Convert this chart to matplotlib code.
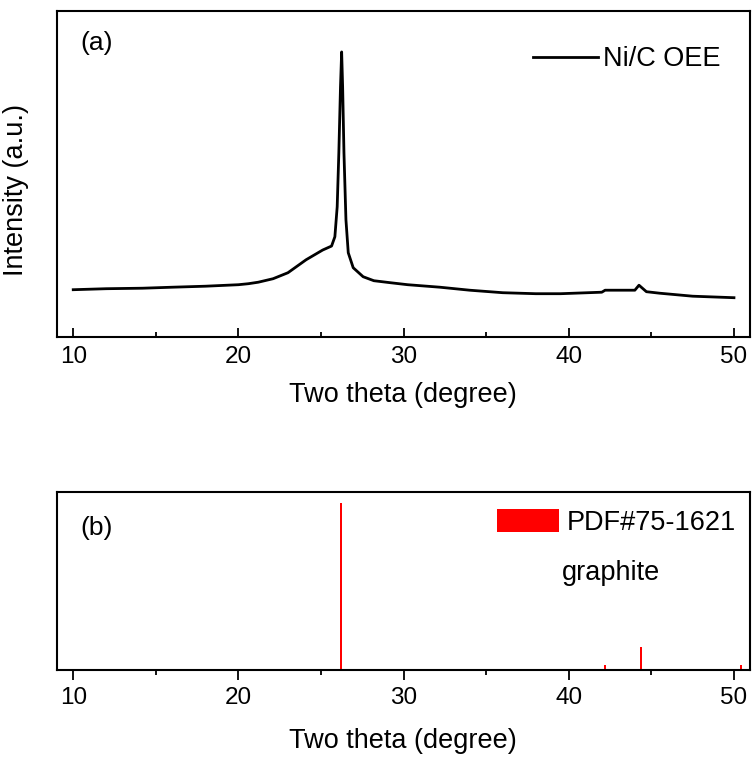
import matplotlib
matplotlib.use("Agg")
import matplotlib.pyplot as plt

plt.rcParams['font.family'] = ['Liberation Sans', 'DejaVu Sans']

two_theta = [10.0, 12.0, 14.2, 16.0, 18.0, 20.0, 20.6, 21.2, 22.1, 23.0, 24.1, 25.1, 25.64,
             25.84, 25.98, 26.08, 26.18, 26.25, 26.31, 26.39, 26.51, 26.65, 26.95,
             27.55, 28.2, 29.2, 30.25, 32.2, 34.0, 36.0, 38.0, 39.5, 42.0, 42.2,
             44.0, 44.25, 44.7, 45.5, 47.5, 50.0]
intensity = [47, 48, 48.5, 49.5, 50.5, 52, 53, 54.5, 58, 64, 77, 86.7, 90.7,
             100, 130, 184, 250, 285, 250, 184, 117, 84, 69,
             60, 56, 54, 52, 49.5, 46.5, 44, 43, 43, 44.5, 46.5,
             46.5, 51.5, 45, 43.5, 40.5, 39]

# (b) reference pattern PDF#75-1621 graphite
ref_pos = [26.2, 42.2, 44.35, 50.4]
ref_int = [100, 3, 14, 3]

fig = plt.figure(figsize=(7.53, 7.61), dpi=100)
ax1 = fig.add_axes([0.0753, 0.5576, 0.9207, 0.428])
ax2 = fig.add_axes([0.0753, 0.1196, 0.9207, 0.2343])

ax1.plot(two_theta, intensity, '-', color='black', lw=2.0, label='Ni/C OEE')
ax1.set_xlim(9.0, 50.97)
ax1.set_ylim(0, 326)
ax1.set_yticks([])
ax1.set_xticks([10, 20, 30, 40, 50])
ax1.set_xticks([15, 25, 35, 45], minor=True)
ax1.tick_params(axis='x', which='major', direction='in', length=6.5, width=1.3, pad=7, labelsize=17.5)
ax1.tick_params(axis='x', which='minor', direction='in', length=3.5, width=1.3)
ax1.set_xlabel('Two theta (degree)', fontsize=19.5)
ax1.xaxis.set_label_coords(0.5, -0.139)
ax1.set_ylabel('Intensity (a.u.)', fontsize=19.5)
ax1.yaxis.set_label_coords(-0.040, 0.45)
ax1.text(0.034, 0.902, '(a)', transform=ax1.transAxes, fontsize=19, va='center', ha='left')
ax1.legend(loc='center left', bbox_to_anchor=(0.6866, 0.8517), frameon=False,
           fontsize=19.5, handlelength=2.4, handletextpad=0.19, borderpad=0, borderaxespad=0)

ax2.bar(ref_pos, ref_int, width=0.12, color='red', label='PDF#75-1621')
ax2.set_xlim(9.0, 50.97)
ax2.set_ylim(0, 107)
ax2.set_yticks([])
ax2.set_xticks([10, 20, 30, 40, 50])
ax2.set_xticks([15, 25, 35, 45], minor=True)
ax2.tick_params(axis='x', which='major', direction='out', length=7, width=1.3, pad=5, labelsize=17.5)
ax2.tick_params(axis='x', which='minor', direction='out', length=3.5, width=1.3)
ax2.set_xlabel('Two theta (degree)', fontsize=19.5)
ax2.xaxis.set_label_coords(0.5, -0.328)
ax2.text(0.034, 0.796, '(b)', transform=ax2.transAxes, fontsize=19, va='center', ha='left')
ax2.text(0.728, 0.544, 'graphite', transform=ax2.transAxes, fontsize=19.5, va='center', ha='left')
ax2.legend(loc='center left', bbox_to_anchor=(0.6347, 0.827), frameon=False,
           fontsize=19.5, handlelength=2.3, handleheight=0.93, handletextpad=0.29,
           borderpad=0, borderaxespad=0)

for ax in (ax1, ax2):
    for s in ax.spines.values():
        s.set_linewidth(1.5)

fig.savefig('out.png', dpi=100)
